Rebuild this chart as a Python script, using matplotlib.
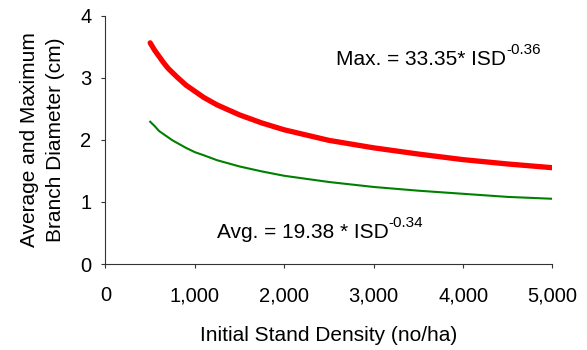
import matplotlib.pyplot as plt
from matplotlib.ticker import FuncFormatter

# valores
isd = [500, 550, 600, 650, 700, 750, 800, 900, 1000, 1100, 1250, 1500, 1750,
       2000, 2500, 3000, 3500, 4000, 4500, 5000]
max_diam = [3.56, 3.44, 3.34, 3.24, 3.15, 3.08, 3.01, 2.88, 2.78, 2.68, 2.56, 2.40, 2.27,
            2.16, 1.99, 1.87, 1.77, 1.68, 1.61, 1.55]
avg_diam = [2.29, 2.22, 2.14, 2.09, 2.04, 1.99, 1.95, 1.87, 1.80, 1.75, 1.67, 1.57, 1.49,
            1.42, 1.32, 1.24, 1.18, 1.13, 1.08, 1.05]

plt.rcParams['font.family'] = ['Liberation Sans', 'DejaVu Sans']

fig = plt.figure(figsize=(5.87, 3.5), dpi=100)
ax = fig.add_axes([0.1797, 0.2457, 0.7615, 0.71])

ax.plot(isd, max_diam, color="#ff0000", linewidth=3.8, solid_capstyle="round")
ax.plot(isd, avg_diam, color="#008000", linewidth=1.5)

ax.set_xlim(0, 5000)
ax.set_ylim(0, 4)
ax.set_xticks([0, 1000, 2000, 3000, 4000, 5000])
ax.set_yticks([0, 1, 2, 3, 4])
ax.xaxis.set_major_formatter(FuncFormatter(lambda v, p: f"{int(v):,}"))

for s in ["top", "right"]:
    ax.spines[s].set_visible(False)
for s in ["left", "bottom"]:
    ax.spines[s].set_color("#333333")
    ax.spines[s].set_linewidth(0.8)
ax.tick_params(direction="out", length=3, width=0.8, color="#333333", labelsize=14.5)
ax.tick_params(axis="x", pad=13)
ax.tick_params(axis="y", pad=7)

ax.set_xlabel("Initial Stand Density (no/ha)", fontsize=15, labelpad=15)
ax.set_ylabel("Average and Maximum\nBranch Diameter (cm)", fontsize=15, labelpad=11,
              linespacing=1.5)

# equações com expoente em texto normal (hífen, não sinal de menos)
t1 = ax.text(2578, 3.2, "Max. = 33.35* ISD", fontsize=15)
ax.annotate("-0.36", xy=(1, 0.62), xycoords=t1, fontsize=11, va="bottom", ha="left")
t2 = ax.text(1247, 0.42, "Avg. = 19.38 * ISD", fontsize=15)
ax.annotate("-0.34", xy=(1, 0.62), xycoords=t2, fontsize=11, va="bottom", ha="left")

fig.savefig("out.png", dpi=100)
